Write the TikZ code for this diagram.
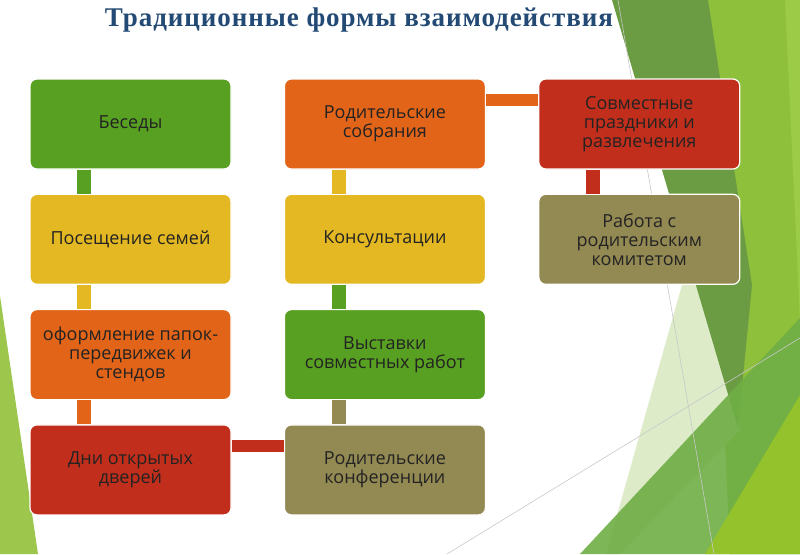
\documentclass[tikz,border=0pt]{standalone}
\usepackage{fontspec}
\setmainfont{Open Sans}
\newfontfamily\titlefont[LetterSpace=3.5]{Liberation Serif}
\usetikzlibrary{positioning}

\definecolor{boxgreen}{HTML}{58A021}
\definecolor{boxyellow}{HTML}{E3B822}
\definecolor{boxorange}{HTML}{E26418}
\definecolor{boxred}{HTML}{C12E1B}
\definecolor{boxolive}{HTML}{938953}
\definecolor{textgray}{HTML}{232323}
\definecolor{titleblue}{HTML}{234A74}
\definecolor{leafdark}{HTML}{6B9B42}
\definecolor{leafbright}{HTML}{8FC03B}
\definecolor{leaflight}{HTML}{9CCB48}
\definecolor{leafpale}{HTML}{DDEBC8}
\definecolor{leafmid}{HTML}{6FAE45}
\definecolor{leafyellow}{HTML}{93C22C}
\definecolor{leafleft}{HTML}{9CC74C}
\definecolor{facetline}{HTML}{C8C8C8}

\tikzset{
  formbox/.style={draw=white, line width=1.2pt, rounded corners=7pt,
    minimum width=201pt, minimum height=90pt, inner sep=0pt,
    align=center, text=textgray, font=\fontsize{18}{19}\selectfont},
  vlink/.style={line width=14pt},
  hlink/.style={line width=12pt},
  title/.style={anchor=base, text=titleblue,
    font=\titlefont\bfseries\fontsize{27}{30}\selectfont}
}

\begin{document}
\begin{tikzpicture}[x=1pt, y=-1pt]
    \useasboundingbox (0,0) rectangle (800,554);

    % background facets
    \fill[leafbright] (706,0) -- (800,0) -- (800,554) -- (730,554) -- cycle;
    \fill[leaflight] (785,0) -- (800,0) -- (800,320) -- cycle;
    \fill[leafpale] (706,200) -- (740,430) -- (620,554) -- (606,554) -- cycle;
    \fill[leafdark] (612,0) -- (708,0) -- (752,285) -- (738,428) -- cycle;
    \fill[leafmid, opacity=.9] (580,554) -- (800,318) -- (800,554) -- cycle;
    \fill[leafyellow] (705,554) -- (800,395) -- (800,554) -- cycle;
    \fill[leafleft] (0,296) -- (38,554) -- (0,554) -- cycle;
    \draw[facetline, line width=.6pt] (618,0) -- (714,554);
    \draw[facetline, line width=.6pt] (447,554) -- (800,338);

    \node[title] (title) at (359,26) {Традиционные формы взаимодействия};

    % first column
    \node[formbox, fill=boxgreen] (besedy) at (130.5,124) {Беседы};
    \node[formbox, fill=boxyellow, below of = besedy, node distance = 115.3pt]
      (poseshchenie) {Посещение семей};
    \node[formbox, fill=boxorange, below of = poseshchenie, node distance = 115.3pt]
      (papki) {оформление папок-\\передвижек и\\стендов};
    \node[formbox, fill=boxred, below of = papki, node distance = 115.3pt]
      (dni) {Дни открытых\\дверей};

    % second column
    \node[formbox, fill=boxorange, right of = besedy, node distance = 254.4pt]
      (sobraniya) {Родительские\\собрания};
    \node[formbox, fill=boxyellow, below of = sobraniya, node distance = 115.3pt]
      (konsultacii) {Консультации};
    \node[formbox, fill=boxgreen, below of = konsultacii, node distance = 115.3pt]
      (vystavki) {Выставки\\совместных работ};
    \node[formbox, fill=boxolive, below of = vystavki, node distance = 115.3pt]
      (konferencii) {Родительские\\конференции};

    % third column
    \node[formbox, fill=boxred, right of = sobraniya, node distance = 254.4pt]
      (prazdniki) {Совместные\\праздники и\\развлечения};
    \node[formbox, fill=boxolive, below of = prazdniki, node distance = 115.3pt]
      (komitet) {Работа с\\родительским\\комитетом};

    % links
    \draw[vlink, boxgreen] ([xshift=55pt]besedy.south west) -- ([xshift=55pt]poseshchenie.north west);
    \draw[vlink, boxyellow] ([xshift=55pt]poseshchenie.south west) -- ([xshift=55pt]papki.north west);
    \draw[vlink, boxorange] ([xshift=55pt]papki.south west) -- ([xshift=55pt]dni.north west);
    \draw[hlink, boxred] ([yshift=-22pt]dni.north east) -- ([yshift=-22pt]konferencii.north west);
    \draw[vlink, boxolive] ([xshift=55pt]konferencii.north west) -- ([xshift=55pt]vystavki.south west);
    \draw[vlink, boxgreen] ([xshift=55pt]vystavki.north west) -- ([xshift=55pt]konsultacii.south west);
    \draw[vlink, boxyellow] ([xshift=55pt]konsultacii.north west) -- ([xshift=55pt]sobraniya.south west);
    \draw[hlink, boxorange] ([yshift=-22pt]sobraniya.north east) -- ([yshift=-22pt]prazdniki.north west);
    \draw[vlink, boxred] ([xshift=55pt]prazdniki.south west) -- ([xshift=55pt]komitet.north west);

\end{tikzpicture}
\end{document}
